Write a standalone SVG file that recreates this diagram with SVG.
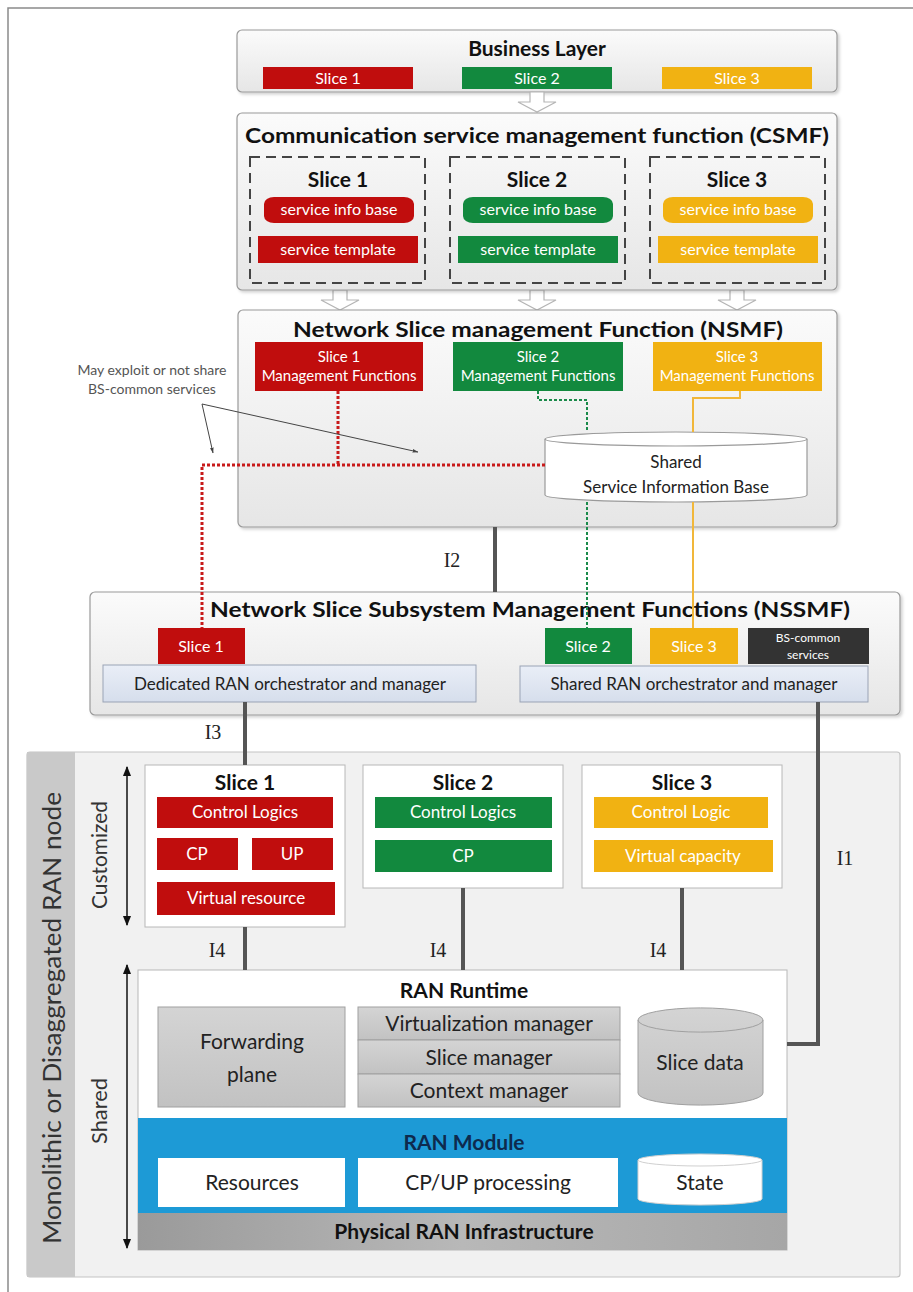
<svg xmlns="http://www.w3.org/2000/svg" width="913" height="1292" viewBox="0 0 913 1292">
  <defs>
    <linearGradient id="panel" x1="0" y1="0" x2="0" y2="1">
      <stop offset="0" stop-color="#fbfbfb"/>
      <stop offset="1" stop-color="#e6e6e6"/>
    </linearGradient>
    <linearGradient id="grayblock" x1="0" y1="0" x2="0" y2="1">
      <stop offset="0" stop-color="#d4d4d4"/>
      <stop offset="1" stop-color="#c2c2c2"/>
    </linearGradient>
    <linearGradient id="infra" x1="0" y1="0" x2="1" y2="0">
      <stop offset="0" stop-color="#9a9a9a"/>
      <stop offset="0.5" stop-color="#b8b8b8"/>
      <stop offset="1" stop-color="#a6a6a6"/>
    </linearGradient>
    <linearGradient id="orch" x1="0" y1="0" x2="0" y2="1">
      <stop offset="0" stop-color="#e9eef7"/>
      <stop offset="1" stop-color="#d6deec"/>
    </linearGradient>
    <filter id="shadow" x="-5%" y="-5%" width="110%" height="115%">
      <feDropShadow dx="2" dy="2" stdDeviation="1.5" flood-color="#000" flood-opacity="0.18"/>
    </filter>
    <marker id="head" viewBox="0 0 10 10" refX="9" refY="5" markerWidth="7" markerHeight="7" orient="auto-start-reverse">
      <path d="M0,1 L10,5 L0,9 Z" fill="#111"/>
    </marker>
    <marker id="thin" viewBox="0 0 10 10" refX="9" refY="5" markerWidth="6" markerHeight="6" orient="auto">
      <path d="M0,2 L10,5 L0,8 Z" fill="#444"/>
    </marker>
  </defs>
  <style>
    text { font-family: Lato, "Open Sans", "Liberation Sans", sans-serif; fill: #222; text-anchor: middle; }
    .title { font-weight: bold; font-size: 21px; fill: #111; }
    .w { fill: #ffffff; }
    .s16 { font-size: 16px; }
    .s15 { font-size: 15px; }
    .s17 { font-size: 17px; }
    .s21 { font-size: 21px; }
    .note { font-size: 14px; fill: #555; }
    .side { fill: #333; }
    .iface { font-family: "Liberation Serif", "DejaVu Serif", serif; font-size: 20px; fill: #222; }
    .panel { fill: url(#panel); stroke: #9a9a9a; stroke-width: 1.2; filter: url(#shadow); }
    .red { fill: #c00d0d; }
    .green { fill: #12893e; }
    .yellow { fill: #f1b212; }
    .dash { fill: none; stroke: #444; stroke-width: 2; stroke-dasharray: 10 6; }
    .hollow { fill: #ffffff; stroke: #b5b5b5; stroke-width: 1.2; }
    .iline { stroke: #555; stroke-width: 4; fill: none; }
    .gray { fill: url(#grayblock); stroke: #a0a0a0; stroke-width: 1; }
  </style>

  <!-- page frame -->
  <path d="M8,1292 V8 H913" fill="none" stroke="#8a8a8a" stroke-width="1.5"/>

  <!-- Business layer -->
  <g id="business-layer">
    <rect class="panel" x="237" y="30" width="600" height="62" rx="5"/>
    <text class="title" x="537" y="56" font-size="20">Business Layer</text>
    <rect class="red" x="263" y="67" width="150" height="22"/>
    <text class="w s16" x="338" y="84">Slice 1</text>
    <rect class="green" x="462" y="67" width="150" height="22"/>
    <text class="w s16" x="537" y="84">Slice 2</text>
    <rect class="yellow" x="662" y="67" width="150" height="22"/>
    <text class="w s16" x="737" y="84">Slice 3</text>
  </g>

  <!-- hollow block arrows between layers -->
  <g id="block-arrows">
    <path class="hollow" d="M530,92 H544 V102 H556 L537,112 L518,102 H530 Z"/>
    <path class="hollow" d="M333,290 H347 V300 H359 L340,310 L321,300 H333 Z"/>
    <path class="hollow" d="M530,290 H544 V300 H556 L537,310 L518,300 H530 Z"/>
    <path class="hollow" d="M730,290 H744 V300 H756 L737,310 L718,300 H730 Z"/>
  </g>

  <!-- CSMF -->
  <g id="csmf">
    <rect class="panel" x="237" y="113" width="600" height="177" rx="5"/>
    <text class="title" x="537" y="143" textLength="584" lengthAdjust="spacingAndGlyphs">Communication service management function (CSMF)</text>
    <rect class="dash" x="250" y="157" width="175" height="126"/>
    <rect class="dash" x="450" y="157" width="175" height="126"/>
    <rect class="dash" x="650" y="157" width="175" height="126"/>
    <text class="title" x="338" y="187" font-size="20">Slice 1</text>
    <text class="title" x="537" y="187" font-size="20">Slice 2</text>
    <text class="title" x="737" y="187" font-size="20">Slice 3</text>
    <rect class="red" x="264" y="197" width="150" height="26" rx="10" ry="7"/>
    <text class="w s16" x="339" y="215">service info base</text>
    <rect class="green" x="463" y="197" width="150" height="26" rx="10" ry="7"/>
    <text class="w s16" x="538" y="215">service info base</text>
    <rect class="yellow" x="663" y="197" width="150" height="26" rx="10" ry="7"/>
    <text class="w s16" x="738" y="215">service info base</text>
    <rect class="red" x="258" y="236" width="160" height="27"/>
    <text class="w s16" x="338" y="255">service template</text>
    <rect class="green" x="458" y="236" width="160" height="27"/>
    <text class="w s16" x="538" y="255">service template</text>
    <rect class="yellow" x="658" y="236" width="160" height="27"/>
    <text class="w s16" x="738" y="255">service template</text>
  </g>

  <!-- NSMF -->
  <g id="nsmf">
    <rect class="panel" x="238" y="310" width="599" height="217" rx="5"/>
    <text class="title" x="538" y="337" textLength="490" lengthAdjust="spacingAndGlyphs">Network Slice management Function (NSMF)</text>
    <rect class="red" x="255" y="342" width="168" height="49"/>
    <text class="w s15" x="339" y="362">Slice 1</text>
    <text class="w s15" x="339" y="381">Management Functions</text>
    <rect class="green" x="453" y="342" width="170" height="49"/>
    <text class="w s15" x="538" y="362">Slice 2</text>
    <text class="w s15" x="538" y="381">Management Functions</text>
    <rect class="yellow" x="653" y="342" width="169" height="49"/>
    <text class="w s15" x="737" y="362">Slice 3</text>
    <text class="w s15" x="737" y="381">Management Functions</text>
  </g>

  <g id="shared-sib">
    <path d="M545,439 A131,7 0 0 1 807,439 V495 A131,7 0 0 1 545,495 Z" fill="#ffffff" stroke="#9a9a9a" stroke-width="1.2"/>
    <path d="M545,439 A131,7 0 0 0 807,439" fill="none" stroke="#9a9a9a" stroke-width="1.2"/>
    <text class="s17" x="676" y="468">Shared</text>
    <text class="s17" x="676" y="493">Service Information Base</text>
  </g>

  <!-- annotation -->
  <g id="annotation">
    <text class="note" x="152" y="375">May exploit or not share</text>
    <text class="note" x="152" y="394">BS-common services</text>
  </g>

  <!-- NSSMF -->
  <g id="nssmf">
    <rect class="panel" x="90" y="592" width="810" height="123" rx="5"/>
    <text class="title" x="530" y="617" textLength="640" lengthAdjust="spacingAndGlyphs">Network Slice Subsystem Management Functions (NSSMF)</text>
    <rect class="red" x="158" y="628" width="87" height="36"/>
    <text class="w s16" x="201" y="652">Slice 1</text>
    <rect class="green" x="545" y="628" width="87" height="36"/>
    <text class="w s16" x="588" y="652">Slice 2</text>
    <rect class="yellow" x="650" y="628" width="88" height="36"/>
    <text class="w s16" x="694" y="652">Slice 3</text>
    <rect x="748" y="628" width="121" height="36" fill="#333"/>
    <text class="w" x="808" y="642" font-size="12">BS-common</text>
    <text class="w" x="808" y="659" font-size="12">services</text>
    <rect x="103" y="665" width="373" height="37" fill="url(#orch)" stroke="#9aa3b5" stroke-width="1"/>
    <text class="s17" x="290" y="690">Dedicated RAN orchestrator and manager</text>
    <rect x="520" y="666" width="348" height="36" fill="url(#orch)" stroke="#9aa3b5" stroke-width="1"/>
    <text class="s17" x="694" y="690">Shared RAN orchestrator and manager</text>
  </g>

  <!-- RAN node -->
  <g id="ran-node">
    <rect x="27" y="752" width="873" height="525" fill="#f1f1f1" stroke="#c4c4c4" stroke-width="1.2" rx="3"/>
    <rect x="27" y="752" width="48" height="525" fill="#c9c9c9"/>
    <text class="side" transform="translate(52,1018) rotate(-90)" x="0" y="9" font-size="25" textLength="452" lengthAdjust="spacingAndGlyphs">Monolithic or Disaggregated RAN node</text>
    <text class="side" transform="translate(100,855) rotate(-90)" x="0" y="7" font-size="21" textLength="108" lengthAdjust="spacingAndGlyphs">Customized</text>
    <text class="side" transform="translate(100,1111) rotate(-90)" x="0" y="7" font-size="21" textLength="66" lengthAdjust="spacingAndGlyphs">Shared</text>
    <line x1="127" y1="767" x2="127" y2="925" stroke="#111" stroke-width="1.5" marker-start="url(#head)" marker-end="url(#head)"/>
    <line x1="127" y1="965" x2="127" y2="1248" stroke="#111" stroke-width="1.5" marker-start="url(#head)" marker-end="url(#head)"/>
  </g>

  <g id="ran-slice-1">
    <rect x="145" y="765" width="200" height="162" fill="#ffffff" stroke="#b8b8b8" stroke-width="1"/>
    <text class="title" x="245" y="790" font-size="20">Slice 1</text>
    <rect class="red" x="157" y="797" width="176" height="31"/>
    <text class="w s17" x="245" y="818">Control Logics</text>
    <rect class="red" x="157" y="838" width="81" height="32"/>
    <text class="w s17" x="197" y="860">CP</text>
    <rect class="red" x="252" y="838" width="81" height="32"/>
    <text class="w s17" x="292" y="860">UP</text>
    <rect class="red" x="157" y="882" width="178" height="33"/>
    <text class="w s17" x="246" y="904">Virtual resource</text>
  </g>

  <g id="ran-slice-2">
    <rect x="363" y="765" width="200" height="123" fill="#ffffff" stroke="#b8b8b8" stroke-width="1"/>
    <text class="title" x="463" y="790" font-size="20">Slice 2</text>
    <rect class="green" x="375" y="797" width="177" height="31"/>
    <text class="w s17" x="463" y="818">Control Logics</text>
    <rect class="green" x="375" y="840" width="177" height="32"/>
    <text class="w s17" x="463" y="862">CP</text>
  </g>

  <g id="ran-slice-3">
    <rect x="582" y="765" width="200" height="123" fill="#ffffff" stroke="#b8b8b8" stroke-width="1"/>
    <text class="title" x="682" y="790" font-size="20">Slice 3</text>
    <rect class="yellow" x="594" y="797" width="174" height="31"/>
    <text class="w s17" x="681" y="818">Control Logic</text>
    <rect class="yellow" x="594" y="840" width="179" height="32"/>
    <text class="w s17" x="683" y="862">Virtual capacity</text>
  </g>

  <!-- RAN runtime, module and infrastructure -->
  <g id="ran-runtime">
    <rect x="138" y="970" width="649" height="280" fill="#ffffff" stroke="#b8b8b8" stroke-width="1"/>
    <text class="title" x="464" y="998" font-size="22">RAN Runtime</text>
    <rect class="gray" x="158" y="1007" width="187" height="100"/>
    <text class="s21" x="252" y="1049">Forwarding</text>
    <text class="s21" x="252" y="1082">plane</text>
    <rect class="gray" x="358" y="1007" width="262" height="33"/>
    <rect class="gray" x="358" y="1040" width="262" height="34"/>
    <rect class="gray" x="358" y="1074" width="262" height="33"/>
    <text class="s21" x="489" y="1031">Virtualization manager</text>
    <text class="s21" x="489" y="1065">Slice manager</text>
    <text class="s21" x="489" y="1098">Context manager</text>
    <path d="M638,1020 A62,12 0 0 1 763,1020 V1093 A62,12 0 0 1 638,1093 Z" fill="url(#grayblock)" stroke="#a0a0a0" stroke-width="1"/>
    <path d="M638,1020 A62,12 0 0 0 763,1020" fill="none" stroke="#a0a0a0" stroke-width="1"/>
    <text class="s21" x="700" y="1070">Slice data</text>
  </g>

  <g id="ran-module">
    <rect x="138" y="1118" width="649" height="95" fill="#1d9ad6"/>
    <text class="title" x="464" y="1150" font-size="22" style="fill:#0e2a4d">RAN Module</text>
    <rect x="158" y="1158" width="187" height="49" fill="#ffffff"/>
    <text class="s21" x="252" y="1190">Resources</text>
    <rect x="358" y="1158" width="260" height="49" fill="#ffffff"/>
    <text class="s21" x="488" y="1190">CP/UP processing</text>
    <path d="M638,1160 A62,6 0 0 1 762,1160 V1199 A62,6 0 0 1 638,1199 Z" fill="#ffffff" stroke="#d0d0d0" stroke-width="1"/>
    <path d="M638,1160 A62,6 0 0 0 762,1160" fill="none" stroke="#d0d0d0" stroke-width="1"/>
    <text class="s21" x="700" y="1190">State</text>
  </g>

  <g id="physical-infra">
    <rect x="138" y="1213" width="649" height="37" fill="url(#infra)"/>
    <text class="title" x="464" y="1239" font-size="22">Physical RAN Infrastructure</text>
  </g>

  <!-- connectors -->
  <g id="connectors">
    <!-- slice 1: dedicated path -->
    <path d="M338,391 V465 M545,465 H202 V628" fill="none" stroke="#c81a1a" stroke-width="3" stroke-dasharray="3 2"/>
    <!-- slice 2: via shared information base -->
    <path d="M538,391 V400 H587 V432 M587,502 V628" fill="none" stroke="#1a8a4a" stroke-width="2" stroke-dasharray="3 2"/>
    <!-- slice 3: via shared information base -->
    <path d="M740,391 V398 H693 V432 M693,502 V628" fill="none" stroke="#f1b73a" stroke-width="2"/>
    <!-- interfaces -->
    <line class="iline" x1="495" y1="527" x2="495" y2="592"/>
    <line class="iline" x1="245" y1="702" x2="245" y2="765"/>
    <line class="iline" x1="245" y1="927" x2="245" y2="970"/>
    <line class="iline" x1="463" y1="888" x2="463" y2="970"/>
    <line class="iline" x1="682" y1="888" x2="682" y2="970"/>
    <path class="iline" d="M818,702 V1044 H787"/>
    <!-- annotation pointers -->
    <line x1="202" y1="404" x2="213" y2="453" stroke="#444" stroke-width="1" marker-end="url(#thin)"/>
    <line x1="202" y1="404" x2="418" y2="452" stroke="#444" stroke-width="1" marker-end="url(#thin)"/>
    <text class="iface" x="452" y="567">I2</text>
    <text class="iface" x="213" y="739">I3</text>
    <text class="iface" x="217" y="957">I4</text>
    <text class="iface" x="438" y="957">I4</text>
    <text class="iface" x="658" y="957">I4</text>
    <text class="iface" x="845" y="865">I1</text>
  </g>
</svg>
